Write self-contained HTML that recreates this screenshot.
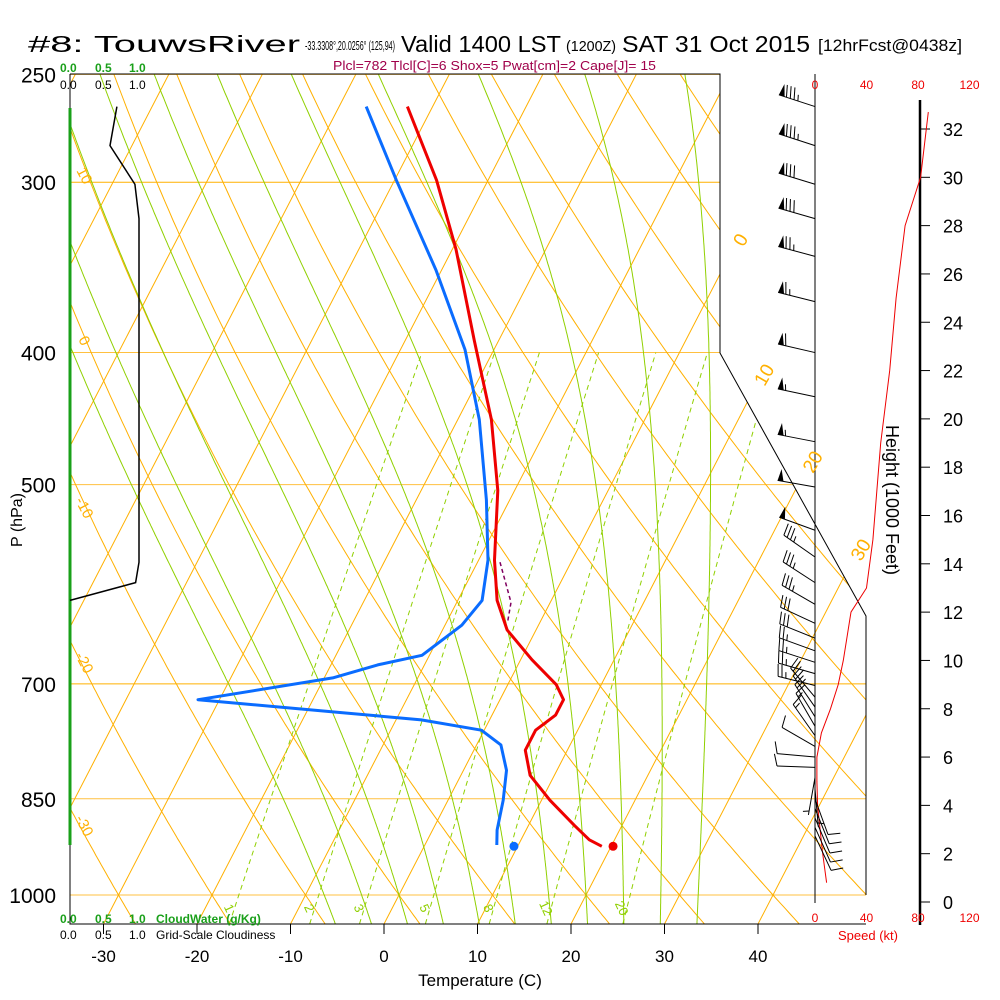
<!DOCTYPE html>
<html><head><meta charset="utf-8"><style>
html,body{margin:0;padding:0;background:#fff}
svg{display:block}
text{font-family:"Liberation Sans",sans-serif}
</style></head><body>
<svg id="chart" width="1000" height="1000" viewBox="0 0 1000 1000">
<defs><clipPath id="plotclip"><polygon points="70,74 720,74 720,353 866,616 866,924 70,924"/></clipPath></defs>
<rect width="1000" height="1000" fill="#fff"/>
<g id="grid" clip-path="url(#plotclip)"></g>
<g id="frame"></g>
<g id="series"></g>
<g id="winds"></g>
<g id="labels">
<text x="28" y="52" font-size="23" textLength="272" lengthAdjust="spacingAndGlyphs">#8: TouwsRiver</text>
<text x="305" y="50" font-size="13" textLength="90" lengthAdjust="spacingAndGlyphs">-33.3308°,20.0256° (125,94)</text>
<text x="401" y="52" font-size="23" textLength="160" lengthAdjust="spacingAndGlyphs">Valid 1400 LST</text>
<text x="566" y="51" font-size="15" textLength="50" lengthAdjust="spacingAndGlyphs">(1200Z)</text>
<text x="622" y="52" font-size="23" textLength="188" lengthAdjust="spacingAndGlyphs">SAT 31 Oct 2015</text>
<text x="818" y="51" font-size="17" textLength="144" lengthAdjust="spacingAndGlyphs">[12hrFcst@0438z]</text>
<text x="333" y="70" font-size="13" fill="#a0004a" textLength="323" lengthAdjust="spacingAndGlyphs">Plcl=782 Tlcl[C]=6 Shox=5 Pwat[cm]=2 Cape[J]= 15</text>
<text x="60" y="72" font-size="12" fill="#1aa01a" font-weight="bold">0.0 <tspan x="95">0.5</tspan><tspan x="129">1.0</tspan></text>
<text x="60" y="89" font-size="12" fill="#000">0.0 <tspan x="95">0.5</tspan><tspan x="129">1.0</tspan></text>
<text x="60" y="923" font-size="12" fill="#1aa01a" font-weight="bold">0.0 <tspan x="95">0.5</tspan><tspan x="129">1.0</tspan><tspan x="156">CloudWater (g/Kg)</tspan></text>
<text x="60" y="939" font-size="12" fill="#000">0.0 <tspan x="95">0.5</tspan><tspan x="129">1.0</tspan><tspan x="156">Grid-Scale Cloudiness</tspan></text>
<text x="480" y="986" font-size="17" text-anchor="middle">Temperature (C)</text>
<text transform="translate(22,520) rotate(-90)" font-size="16" text-anchor="middle">P (hPa)</text>
<text transform="translate(886,500) rotate(90)" font-size="18" text-anchor="middle">Height (1000 Feet)</text>
<text x="868" y="940" font-size="13" fill="#e00" text-anchor="middle">Speed (kt)</text>
</g>
</svg>
<script>
// ---- data ----
const tempP = [264,299,336,392,448,505,568,608,639,672,701,719,738,757,783,817,852,889,911,921];
const tempT = [-42.7,-35.5,-29.6,-22.6,-16.4,-11.8,-8.3,-5.8,-3.1,1.2,5.2,6.8,6.8,5.5,5.5,7.4,10.9,14.9,17.3,19.0];
const dewP = [264,299,348,398,448,513,568,608,634,667,678,693,719,735,744,757,776,810,852,896,919];
const dewT = [-47.1,-39.8,-30.6,-23.1,-17.7,-12.5,-9.0,-7.4,-8.2,-10.8,-15.0,-19.1,-32.3,-16.1,-7.3,-0.3,2.6,4.6,5.9,6.9,7.7];
const sfcP = 921, sfcT = 20.2, sfcTd = 9.6;
const parcelP = [570,610,630];
const parcelT = [-7.6,-4.2,-3.5];
const cloudP = [264,282,301,319,570,590,608];
const cloudFrac = [0.68,0.58,0.94,1.0,1.0,0.95,0.0];
const windP = [264,282,301,319,340,367,400,431,465,502,540,565,590,612,632,648,662,675,688,702,716,728,740,752,764,778,792,806,820,836,850,864,878,892,905];
const windSpd = [85,85,80,80,75,65,60,55,55,50,50,35,35,35,30,30,25,25,25,25,20,20,20,15,15,10,10,10,5,5,10,10,10,10,10];
const windDir = [288,288,287,286,285,284,283,282,281,280,290,305,303,300,295,292,290,288,286,284,320,325,328,330,325,300,275,272,190,175,160,158,157,156,155];
const spdH = [0.8,2,3,4,5,5.5,6,7,8,9,10,12,13,15,17,19,22,25,28,30,32.7];
const spdV = [9,6,4,2,1.5,1.5,1.5,5,12,18,22,28,40,45,48,51,58,63,70,82,88];
const thetaList = [-30,-20,-10,0,10,20,30,40,50,60,70,80,90,100,110,120,130,140,150];
const isoList = [-110,-100,-90,-80,-70,-60,-50,-40,-30,-20,-10,0,10,20,30,40];
const thetaWList = [-8,-4,0,4,8,12,16,20,24,28,32];
const mixList = [1,2,3,5,8,12,20];
const pLevels = [250,300,400,500,700,850,1000];
const xTicks = [-30,-20,-10,0,10,20,30,40];
const hTicks = [0,2,4,6,8,10,12,14,16,18,20,22,24,26,28,30,32];
const spdTicks = [0,40,80,120];

// ---- axes ----
const NS='http://www.w3.org/2000/svg';
function yP(p){return 895-592*Math.log(1000/p);}
function xT(T,p){return 399+9.35*T+0.517*(895-yP(p));}
function xTy(T,y){return 399+9.35*T+0.517*(895-y);}
function xSpd(s){return 815+s*51.5/40;}
function yH(h){return 902-h*(902-129)/32;}
function xCloud(f){return 70+f*69;}
function mk(tag,attrs,parent){const e=document.createElementNS(NS,tag);for(const k in attrs)e.setAttribute(k,attrs[k]);parent.appendChild(e);return e;}
const G=document.getElementById('grid'),F=document.getElementById('frame'),S=document.getElementById('series'),W=document.getElementById('winds'),L=document.getElementById('labels');
function pts(arr){return arr.map(a=>a[0].toFixed(1)+','+a[1].toFixed(1)).join(' ');}
const pGrid=[];for(let p=1060;p>=240;p-=5)pGrid.push(p);

// isobars
pLevels.forEach(p=>{const l=mk('line',{x1:70,x2:900,y1:yP(p),y2:yP(p),stroke:(p==300||p==700)?'#ffb000':'#ffc040','stroke-width':1},G);

const t=mk('text',{x:56,y:yP(p)+8,'font-size':21,'text-anchor':'end'},L);t.textContent=p;
});
// isotherms
isoList.forEach(T=>{const l=mk('line',{x1:xTy(T,924),y1:924,x2:xTy(T,74),y2:74,stroke:'#ffb000','stroke-width':1},G);
});
// dry adiabats
thetaList.forEach(th=>{const a=pGrid.map(p=>[xT((th+273.15)*Math.pow(p/1000,0.2857)-273.15,p),yP(p)]);
const l=mk('polyline',{points:pts(a),fill:'none',stroke:'#ffb000','stroke-width':1},G);
});
// moist adiabats
function es(T){return 6.112*Math.exp(17.67*T/(T+243.5));}
function gammaM(T,p){const Tk=T+273.15,e=es(T),r=0.622*e/(p-e),Lv=2.501e6,Rd=287,cp=1004;
return (Rd*Tk+Lv*r)/(cp+Lv*Lv*r*0.622/(Rd*Tk*Tk))/p;}
thetaWList.forEach(tw=>{let T=tw,p=1000;const up=[];while(p>=240){up.push([xT(T,p),yP(p)]);const dp=-2;T+=gammaM(T,p)*dp;p+=dp;}
T=tw;p=1000;const dn=[];while(p<=1060){dn.unshift([xT(T,p),yP(p)]);T+=gammaM(T,p)*2;p+=2;}
const l=mk('polyline',{points:pts(dn.concat(up)),fill:'none',stroke:'#90d000','stroke-width':1},G);
});
// mixing ratio
function tdFromW(w,p){const e=w*p/(622+w),g=Math.log(e/6.112);return 243.5*g/(17.67-g);}
mixList.forEach(w=>{const a=[];for(let p=1050;p>=400;p-=10)a.push([xT(tdFromW(w,p),p),yP(p)]);
const l=mk('polyline',{points:pts(a),fill:'none',stroke:'#90d000','stroke-width':1,'stroke-dasharray':'5,4'},G);

const x=xT(tdFromW(w,1030),1030)-8;const t=mk('text',{transform:'translate('+x+',910) rotate(65)','font-size':13,fill:'#90d000','text-anchor':'middle'},G);t.textContent=w;
});
// isotherm labels right
[[0,243],[10,378],[20,465],[30,553]].forEach(a=>{const x=xTy(a[0],a[1])+10;const t=mk('text',{transform:'translate('+x+','+a[1]+') rotate(-60)','font-size':19,fill:'#ffb000','text-anchor':'middle'},L);t.textContent=a[0];
});
// dry adiabat labels left
[[10,178],[0,343],[-10,510],[-20,665],[-30,828]].forEach(a=>{const t=mk('text',{transform:'translate(80,'+a[1]+') rotate(62)','font-size':15,fill:'#ffb000','text-anchor':'middle'},L);t.textContent=a[0];
});

// frame
[['M70,74 L720,74 L720,353 L866,616 L866,895','plot-border'],['M70,74 L70,924 L866,924','plot-axes'],['M815,74 L815,903','wind-axis']].forEach(d=>{
const e=mk('path',{d:d[0],fill:'none',stroke:'#000','stroke-width':1},F);});
const ha=mk('line',{x1:920,x2:920,y1:100,y2:925,stroke:'#000','stroke-width':2.5},F);
xTicks.forEach(T=>{const x=xTy(T,924);mk('line',{x1:x,x2:x,y1:924,y2:934,stroke:'#000'},F);
const t=mk('text',{x:x,y:962,'font-size':17,'text-anchor':'middle'},L);t.textContent=T;});
hTicks.forEach(h=>{mk('line',{x1:920,x2:930,y1:yH(h),y2:yH(h),stroke:'#000'},F);
const t=mk('text',{x:943,y:yH(h)+7,'font-size':18},L);t.textContent=h;});
spdTicks.forEach(s=>{[89,922].forEach(y=>{const t=mk('text',{x:xSpd(s),y:y,'font-size':12,fill:'#e00','text-anchor':'middle'},L);t.textContent=s;
});});

// cloud panel
const cw=mk('line',{x1:70,x2:70,y1:108,y2:845,stroke:'#1aa01a','stroke-width':3},S);
const cl=mk('polyline',{points:pts(cloudP.map((p,i)=>[xCloud(cloudFrac[i]),yP(p)])),fill:'none',stroke:'#000','stroke-width':1.5},S);

// temperature & dewpoint
const tl=mk('polyline',{points:pts(tempP.map((p,i)=>[xT(tempT[i],p),yP(p)])),fill:'none',stroke:'#ee0000','stroke-width':3,'stroke-linejoin':'round'},S);

const dl=mk('polyline',{points:pts(dewP.map((p,i)=>[xT(dewT[i],p),yP(p)])),fill:'none',stroke:'#0a6cff','stroke-width':3,'stroke-linejoin':'round'},S);

const pl=mk('polyline',{points:pts(parcelP.map((p,i)=>[xT(parcelT[i],p),yP(p)])),fill:'none',stroke:'#800060','stroke-width':1.5,'stroke-dasharray':'4,3'},S);

const c1=mk('circle',{cx:xT(sfcT,sfcP),cy:yP(sfcP),r:4.5,fill:'#ee0000'},S);
const c2=mk('circle',{cx:xT(sfcTd,sfcP),cy:yP(sfcP),r:4.5,fill:'#0a6cff'},S);
// speed profile
const sl=mk('polyline',{points:pts(spdH.map((h,i)=>[xSpd(spdV[i]),yH(h)])),fill:'none',stroke:'#ee0000','stroke-width':1},S);


// wind barbs
windP.forEach((p,i)=>{const bx=815,by=yP(p),d=windDir[i]*Math.PI/180,ux=Math.sin(d),uy=-Math.cos(d),Ls=38;
const tx=bx+ux*Ls,ty=by+uy*Ls,px=-uy,py=ux;let nx=px,ny=py;if(ny>0||(Math.abs(ny)<1e-6&&nx<0)){nx=-px;ny=-py;}
const g=mk('g',{},W);
mk('line',{x1:bx,y1:by,x2:tx,y2:ty,stroke:'#000','stroke-width':1},g);
let s=Math.round(windSpd[i]/5)*5,pos=0;
while(s>=50){const a=[tx-ux*pos,ty-uy*pos],b=[tx-ux*(pos+6),ty-uy*(pos+6)],c=[a[0]+nx*12-ux*2,a[1]+ny*12-uy*2];
mk('polygon',{points:pts([a,c,b]),fill:'#000'},g);s-=50;pos+=8;}
while(s>=10){const a=[tx-ux*pos,ty-uy*pos];mk('line',{x1:a[0],y1:a[1],x2:a[0]+nx*12+ux*3,y2:a[1]+ny*12+uy*3,stroke:'#000'},g);s-=10;pos+=4;}
if(s>=5){if(pos==0)pos=4;const a=[tx-ux*pos,ty-uy*pos];mk('line',{x1:a[0],y1:a[1],x2:a[0]+nx*6+ux*1.5,y2:a[1]+ny*6+uy*1.5,stroke:'#000'},g);}
});
</script>
</body></html>
